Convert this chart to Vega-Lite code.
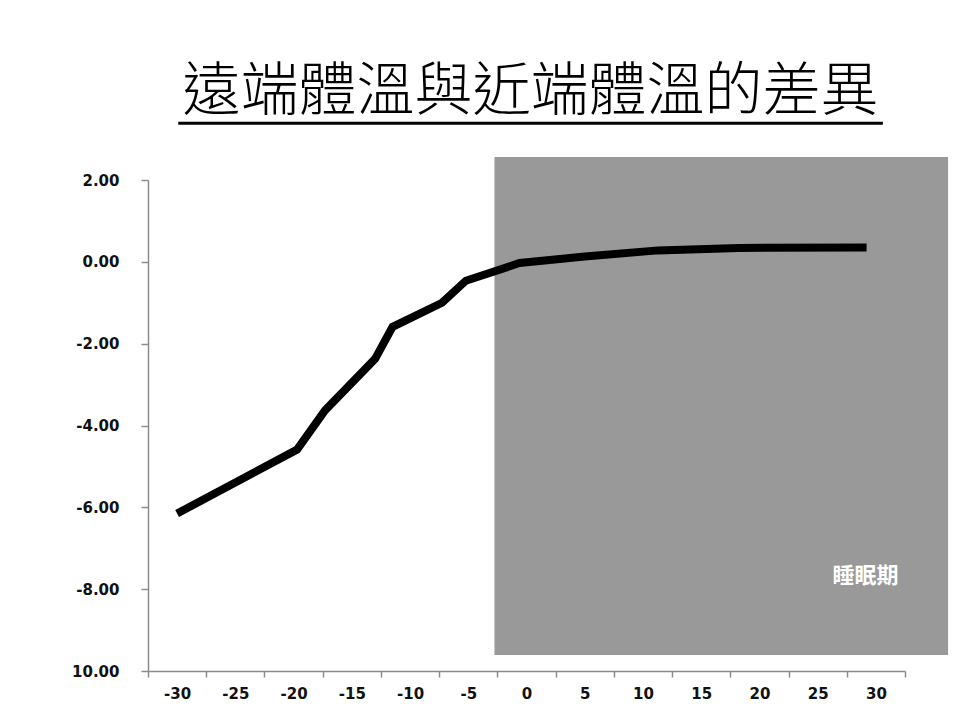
{
  "$schema": "https://vega.github.io/schema/vega-lite/v6.json",
  "width": 757,
  "height": 491,
  "autosize": {"type": "none"},
  "padding": {"left": 148, "top": 180, "right": 55, "bottom": 49},
  "background": "white",
  "title": {
    "text": "遠端體溫與近端體溫的差異",
    "font": "Noto Sans CJK TC",
    "fontSize": 58,
    "fontWeight": 300,
    "color": "#000000",
    "anchor": "middle",
    "dx": 4,
    "offset": 0
  },
  "config": {
    "view": {"stroke": null},
    "axis": {
      "grid": false,
      "domainColor": "#8c8c8c",
      "domainWidth": 1.5,
      "tickColor": "#8c8c8c",
      "tickWidth": 1.5,
      "labelFont": "DejaVu Sans",
      "labelFontWeight": "bold",
      "labelFontSize": 15,
      "labelColor": "#111111",
      "title": null
    }
  },
  "encoding": {
    "y": {
      "field": "y",
      "type": "quantitative",
      "scale": {"domain": [-10, 2], "nice": false, "zero": false},
      "axis": {
        "values": [-10, -8, -6, -4, -2, 0, 2],
        "labelExpr": "datum.value == -10 ? '10.00' : replace(format(datum.value, '.2f'), '−', '-')",
        "tickSize": 7,
        "labelPadding": 22
      }
    }
  },
  "layer": [
    {
      "data": {"values": [{"x": -2.75, "x2": 36.2, "y": 2.56, "y2": -9.61}]},
      "mark": {"type": "rect", "color": "#999999"},
      "encoding": {
        "x": {
          "field": "x",
          "type": "quantitative",
          "scale": {"domain": [-32.5, 32.5], "nice": false, "zero": false},
          "axis": {
            "orient": "bottom",
            "values": [-32.5, -27.5, -22.5, -17.5, -12.5, -7.5, -2.5, 2.5, 7.5, 12.5, 17.5, 22.5, 27.5, 32.5],
            "labels": false,
            "tickSize": 6
          }
        },
        "x2": {"field": "x2"},
        "y2": {"field": "y2"}
      }
    },
    {
      "data": {
        "values": [
          {"x": -30, "y": -6.15},
          {"x": -19.7, "y": -4.59},
          {"x": -17.3, "y": -3.63},
          {"x": -13.0, "y": -2.37},
          {"x": -11.5, "y": -1.59},
          {"x": -7.25, "y": -1.0},
          {"x": -5.2, "y": -0.46},
          {"x": -0.6, "y": -0.03},
          {"x": 5, "y": 0.13},
          {"x": 11.3, "y": 0.28},
          {"x": 18.2, "y": 0.34},
          {"x": 29.2, "y": 0.35}
        ]
      },
      "mark": {"type": "line", "color": "#000000", "strokeWidth": 8, "strokeCap": "butt", "strokeJoin": "miter"},
      "encoding": {
        "x": {
          "field": "x",
          "type": "quantitative",
          "axis": {
            "orient": "bottom",
            "values": [-30, -25, -20, -15, -10, -5, 0, 5, 10, 15, 20, 25, 30],
            "labelExpr": "replace(format(datum.value, 'd'), '−', '-')",
            "ticks": false,
            "domain": false,
            "labelPadding": 15
          }
        }
      }
    },
    {
      "data": {"values": [{"x": 29.1, "y": -7.68, "label": "睡眠期"}]},
      "mark": {"type": "text", "color": "#ffffff", "font": "Noto Sans CJK TC", "fontSize": 22, "fontWeight": "bold", "align": "center", "baseline": "middle"},
      "encoding": {
        "x": {"field": "x", "type": "quantitative", "axis": null},
        "text": {"field": "label"}
      }
    },
    {
      "data": {"values": [{"x": -29.9, "x2": 30.6, "y": 3.39}]},
      "mark": {"type": "rule", "color": "#000000", "strokeWidth": 3},
      "encoding": {
        "x": {"field": "x", "type": "quantitative", "axis": null},
        "x2": {"field": "x2"}
      }
    }
  ],
  "resolve": {"axis": {"x": "independent"}}
}
